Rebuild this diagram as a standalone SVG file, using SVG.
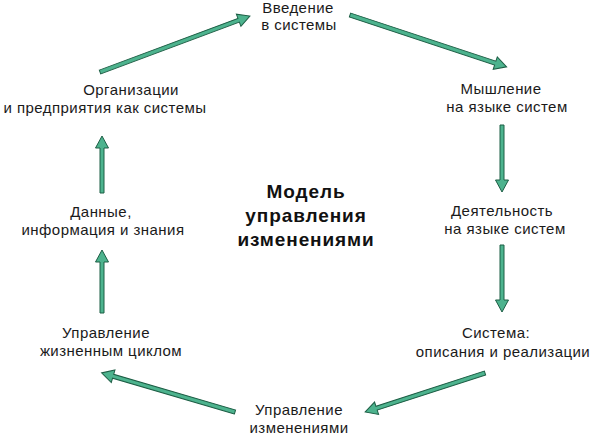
<svg xmlns="http://www.w3.org/2000/svg" width="594" height="435" viewBox="0 0 594 435">
<style>
.t{font-family:"Liberation Sans",Arial,sans-serif;font-size:15px;letter-spacing:0.45px;fill:#1a1a1a;text-anchor:middle}
.b{font-family:"Liberation Sans",Arial,sans-serif;font-size:19px;letter-spacing:0.9px;font-weight:bold;fill:#111;text-anchor:middle}
.a{fill:#4db38e;stroke:#1d5e45;stroke-width:1;stroke-linejoin:miter}
</style>
<rect width="594" height="435" fill="#fff"/>
<g id="connectors">
<path class="a" transform="translate(100,72) rotate(-20.47)" d="M0,-2 H148 V-6.5 L160,0 L148,6.5 V2 H0 Z"/>
<path class="a" transform="translate(350,15) rotate(18.32)" d="M0,-2 H153 V-6.5 L165,0 L153,6.5 V2 H0 Z"/>
<path class="a" transform="translate(502,125) rotate(90)" d="M0,-2 H55 V-6.5 L67,0 L55,6.5 V2 H0 Z"/>
<path class="a" transform="translate(502,245) rotate(90)" d="M0,-2 H55 V-6.5 L67,0 L55,6.5 V2 H0 Z"/>
<path class="a" transform="translate(485,373) rotate(162)" d="M0,-2 H114 V-6.5 L126,0 L114,6.5 V2 H0 Z"/>
<path class="a" transform="translate(235,412) rotate(-163.66)" d="M0,-2 H127 V-6.5 L139,0 L127,6.5 V2 H0 Z"/>
<path class="a" transform="translate(102,313) rotate(-90)" d="M0,-2 H51 V-6.5 L63,0 L51,6.5 V2 H0 Z"/>
<path class="a" transform="translate(102,193) rotate(-90)" d="M0,-2 H45 V-6.5 L57,0 L45,6.5 V2 H0 Z"/>
</g>
<g id="title"><text class="b" x="306" y="198">Модель</text><text class="b" x="306" y="222">управления</text><text class="b" x="306" y="246">изменениями</text></g>
<g id="n1"><text class="t" x="298" y="13">Введение</text><text class="t" x="299" y="30">в системы</text></g>
<g id="n2"><text class="t" x="501" y="94">Мышление</text><text class="t" x="507" y="112">на языке систем</text></g>
<g id="n3"><text class="t" x="502" y="216">Деятельность</text><text class="t" x="505" y="234">на языке систем</text></g>
<g id="n4"><text class="t" x="496" y="338">Система:</text><text class="t" x="503" y="357">описания и реализации</text></g>
<g id="n5"><text class="t" x="299" y="415">Управление</text><text class="t" x="299" y="433">изменениями</text></g>
<g id="n6"><text class="t" x="106" y="338">Управление</text><text class="t" x="111" y="356">жизненным циклом</text></g>
<g id="n7"><text class="t" x="101" y="217">Данные,</text><text class="t" x="103" y="235">информация и знания</text></g>
<g id="n8"><text class="t" x="131" y="95">Организации</text><text class="t" x="105" y="113">и предприятия как системы</text></g>
</svg>
